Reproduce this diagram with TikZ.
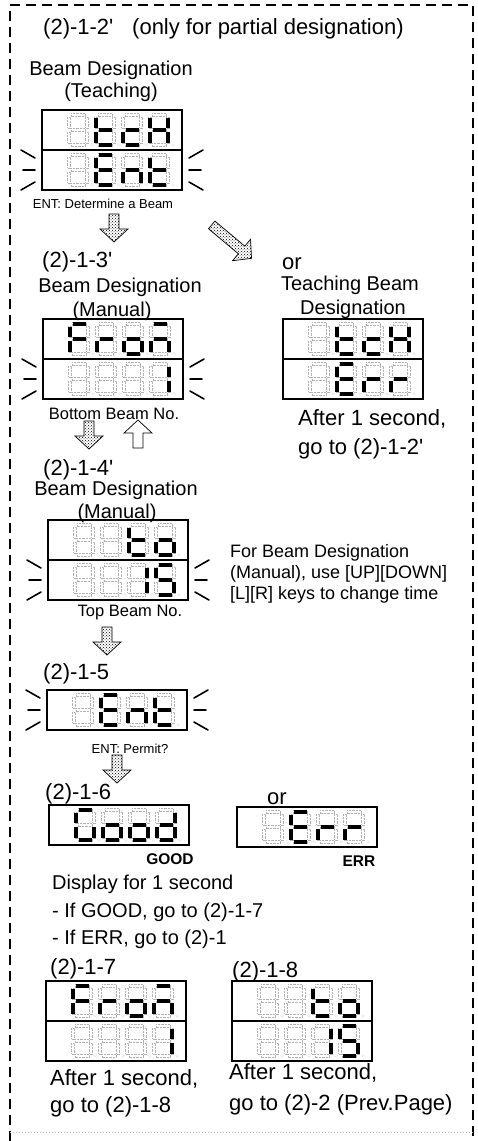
\documentclass[tikz,border=0pt]{standalone}
\usepackage{fontspec}
\setmainfont{Liberation Sans}[Ligatures=TeXOff]
\usetikzlibrary{patterns}

\tikzset{
  lit/.style={line width=3.4pt, line cap=butt, black},
  ghost/.style={gray!60, line width=0.4pt, densely dotted},
  disp/.style={draw=black, line width=1.2pt},
  dtwo/.style={disp, rectangle, minimum width=140pt, minimum height=80pt, inner sep=0pt, outer sep=0pt, anchor=north west},
  done/.style={disp, rectangle, minimum width=140pt, minimum height=40pt, inner sep=0pt, outer sep=0pt, anchor=north west},
  flash/.style={line width=1.6pt, line cap=round},
  barrow/.style={draw=black, line width=0.7pt, pattern=crosshatch dots},
  warrow/.style={draw=black, line width=0.7pt, fill=white},
  border/.style={line width=1.4pt, dash pattern=on 10pt off 6pt},
  tbig/.style={font=\fontsize{22}{26}\selectfont, inner sep=0pt},
  tmed/.style={font=\fontsize{20}{24}\selectfont, inner sep=0pt},
  tfor/.style={font=\fontsize{18}{21}\selectfont, inner sep=0pt},
  tbeam/.style={font=\fontsize{16.5}{19}\selectfont, inner sep=0pt},
  tent/.style={font=\fontsize{13}{15}\selectfont, inner sep=0pt},
  tgood/.style={font=\fontsize{15.5}{18}\selectfont\bfseries, inner sep=0pt},
}

% seven-segment pieces (cell 18 x 30, y downwards)
\newcommand\litsega{\draw[lit] (2.5,0)--(15.5,0);}
\newcommand\litsegb{\draw[lit] (18,2.5)--(18,13);}
\newcommand\litsegc{\draw[lit] (18,17)--(18,27.5);}
\newcommand\litsegd{\draw[lit] (2.5,30)--(15.5,30);}
\newcommand\litsege{\draw[lit] (0,17)--(0,27.5);}
\newcommand\litsegf{\draw[lit] (0,2.5)--(0,13);}
\newcommand\litsegg{\draw[lit] (2.5,15)--(15.5,15);}
\newcommand\ghostsegs{%
  \draw[ghost] (2,-1.6) rectangle (16,1.6);
  \draw[ghost] (16.4,2) rectangle (19.6,13);
  \draw[ghost] (16.4,17) rectangle (19.6,28);
  \draw[ghost] (2,28.4) rectangle (16,31.6);
  \draw[ghost] (-1.6,17) rectangle (1.6,28);
  \draw[ghost] (-1.6,2) rectangle (1.6,13);
  \draw[ghost] (2,13.4) rectangle (16,16.6);
  \draw[ghost] (23,30) circle (1.4);
}
\newcommand\sdig[3]{\begin{scope}[shift={(#1,#2)}]\ghostsegs
  \foreach \s in {#3}{\csname litseg\s\endcsname}\end{scope}}
\newcommand\drow[6]{\sdig{#1+27}{#2+5}{#3}\sdig{#1+54}{#2+5}{#4}%
  \sdig{#1+81}{#2+5}{#5}\sdig{#1+108}{#2+5}{#6}}
% flashing marks, #1 node, #2 y offset of row centre from the node top
\newcommand\flashes[2]{%
  \begin{scope}[shift={(#1.north west)}]
    \draw[flash] (-21,#2-20)--(-7,#2-12);
    \draw[flash] (-19,#2)--(-7,#2);
    \draw[flash] (-21,#2+20)--(-7,#2+12);
  \end{scope}
  \begin{scope}[shift={(#1.north east)}]
    \draw[flash] (21,#2-20)--(7,#2-12);
    \draw[flash] (19,#2)--(7,#2);
    \draw[flash] (21,#2+20)--(7,#2+12);
  \end{scope}}
% block arrow: #1 style, #2 x, #3 y (tail centre), #4 rotation, #5 shaft length
\newcommand\blockarrow[5]{%
  \begin{scope}[shift={(#2,#3)}, rotate=#4]
    \path[#1] (-5,0)--(5,0)--(5,#5)--(14,#5)--(0,#5+13)--(-14,#5)--(-5,#5)--cycle;
  \end{scope}}

\begin{document}
\begin{tikzpicture}[x=1pt, y=-1pt]
\useasboundingbox (0,0) rectangle (477,1141);

% frame
\draw[border] (10,1141) -- (10,5) -- (473,5) -- (473,1141);
\draw[gray!55, line width=1pt, dotted] (10,1132) -- (473,1132);

% title
\node[tbig, anchor=base west] (t0) at (43,34) {(2)-1-2\textquotesingle};
\node[tbig, anchor=base west] (t0b) at (132,34) {(only for partial designation)};

% (2)-1-2' teaching
\node[tmed, anchor=base] (bd1) at (111,75) {Beam Designation};
\node[tmed, anchor=base] (te1) at (111,97) {(Teaching)};
\node[dtwo] (d1) at (42,110) {};
\draw[disp] (d1.west) -- (d1.east);
\begin{scope}[shift={(d1.north west)}]
  \drow{0}{0}{z}{d,e,f,g}{d,e,g}{b,c,e,f,g}
  \drow{0}{40}{z}{a,d,e,f,g}{c,e,g}{d,e,f,g}
\end{scope}
\flashes{d1}{60}
\node[tent, anchor=base] (ent1) at (103,208) {ENT: Determine a Beam};

\blockarrow{barrow}{114}{214}{0}{15}
\blockarrow{barrow}{211.7}{224.9}{50}{39}

% (2)-1-3'
\node[tbig, anchor=base west] (l3) at (42,267) {(2)-1-3\textquotesingle};
\node[tmed, anchor=base] (bd2) at (120,292) {Beam Designation};
\node[tmed, anchor=base] (ma2) at (112,316) {(Manual)};
\node[dtwo] (d2) at (43,319) {};
\draw[disp] (d2.west) -- (d2.east);
\begin{scope}[shift={(d2.north west)}]
  \drow{0}{0}{a,e,f,g}{e,g}{c,d,e,g}{a,c,e,g}
  \drow{0}{40}{z}{z}{z}{b,c}
\end{scope}
\flashes{d2}{60}
\node[tbeam, anchor=base] (bb) at (114,419) {Bottom Beam No.};

% teaching error
\node[tbig, anchor=base west] (or1) at (282,269) {or};
\node[tmed, anchor=base] (tb) at (350,290) {Teaching Beam};
\node[tmed, anchor=base] (de) at (353,314) {Designation};
\node[dtwo] (dr) at (283,319) {};
\draw[disp] (dr.west) -- (dr.east);
\begin{scope}[shift={(dr.north west)}]
  \drow{0}{0}{z}{d,e,f,g}{d,e,g}{b,c,e,f,g}
  \drow{0}{40}{z}{a,d,e,f,g}{e,g}{e,g}
\end{scope}
\node[tbig, anchor=base west] (r1) at (298,425) {After 1 second,};
\node[tbig, anchor=base west] (r2) at (298,454) {go to (2)-1-2\textquotesingle};

\blockarrow{barrow}{89}{421}{0}{15}
\blockarrow{warrow}{138}{448}{180}{15}

% (2)-1-4'
\node[tbig, anchor=base west] (l4) at (43,475) {(2)-1-4\textquotesingle};
\node[tmed, anchor=base] (bd3) at (116,495) {Beam Designation};
\node[tmed, anchor=base] (ma3) at (117,518) {(Manual)};
\node[dtwo] (d3) at (48,520) {};
\draw[disp] (d3.west) -- (d3.east);
\begin{scope}[shift={(d3.north west)}]
  \drow{0}{0}{z}{z}{d,e,f,g}{c,d,e,g}
  \drow{0}{40}{z}{z}{b,c}{a,c,d,f,g}
\end{scope}
\flashes{d3}{60}
\node[tfor, anchor=base west] (f1) at (230,557) {For Beam Designation};
\node[tfor, anchor=base west] (f2) at (230,578) {(Manual), use [UP][DOWN]};
\node[tfor, anchor=base west] (f3) at (230,599) {[L][R] keys to change time};
\node[tbeam, anchor=base] (tbn) at (130,616) {Top Beam No.};

\blockarrow{barrow}{107}{627}{0}{15}

% (2)-1-5
\node[tbig, anchor=base west] (l5) at (43,679) {(2)-1-5};
\node[done] (d4) at (47,690) {};
\begin{scope}[shift={(d4.north west)}]
  \drow{0}{0}{z}{a,d,e,f,g}{c,e,g}{d,e,f,g}
\end{scope}
\flashes{d4}{20}
\node[tent, anchor=base] (ent2) at (130,753) {ENT: Permit?};

\blockarrow{barrow}{117}{755}{0}{15}

% (2)-1-6
\node[tbig, anchor=base west] (l6) at (45,799) {(2)-1-6};
\node[tbig, anchor=base west] (or2) at (267,804) {or};
\node[done] (dg) at (49,805) {};
\begin{scope}[shift={(dg.north west)}]
  \drow{0}{0}{a,c,d,e,f}{c,d,e,g}{c,d,e,g}{b,c,d,e,g}
\end{scope}
\node[done] (de2) at (237,807) {};
\begin{scope}[shift={(de2.north west)}]
  \drow{0}{0}{z}{a,d,e,f,g}{e,g}{e,g}
\end{scope}
\node[tgood, anchor=base] (good) at (170,864) {GOOD};
\node[tgood, anchor=base] (err) at (359,866) {ERR};
\node[tmed, anchor=base west] (dis1) at (52,889) {Display for 1 second};
\node[tmed, anchor=base west] (dis2) at (52,917) {- If GOOD, go to (2)-1-7};
\node[tmed, anchor=base west] (dis3) at (52,944) {- If ERR, go to (2)-1};

% (2)-1-7 and (2)-1-8
\node[tbig, anchor=base west] (l7) at (50,974) {(2)-1-7};
\node[tbig, anchor=base west] (l8) at (232,977) {(2)-1-8};
\node[dtwo] (d7) at (46,981) {};
\draw[disp] (d7.west) -- (d7.east);
\begin{scope}[shift={(d7.north west)}]
  \drow{0}{0}{a,e,f,g}{e,g}{c,d,e,g}{a,c,e,g}
  \drow{0}{40}{z}{z}{z}{b,c}
\end{scope}
\node[dtwo] (d8) at (232,981) {};
\draw[disp] (d8.west) -- (d8.east);
\begin{scope}[shift={(d8.north west)}]
  \drow{0}{0}{z}{z}{d,e,f,g}{c,d,e,g}
  \drow{0}{40}{z}{z}{b,c}{a,c,d,f,g}
\end{scope}
\node[tbig, anchor=base west] (a1) at (50,1085) {After 1 second,};
\node[tbig, anchor=base west] (a2) at (50,1112) {go to (2)-1-8};
\node[tbig, anchor=base west] (b1) at (229,1079) {After 1 second,};
\node[tbig, anchor=base west] (b2) at (229,1110) {go to (2)-2 (Prev.Page)};
\end{tikzpicture}
\end{document}
